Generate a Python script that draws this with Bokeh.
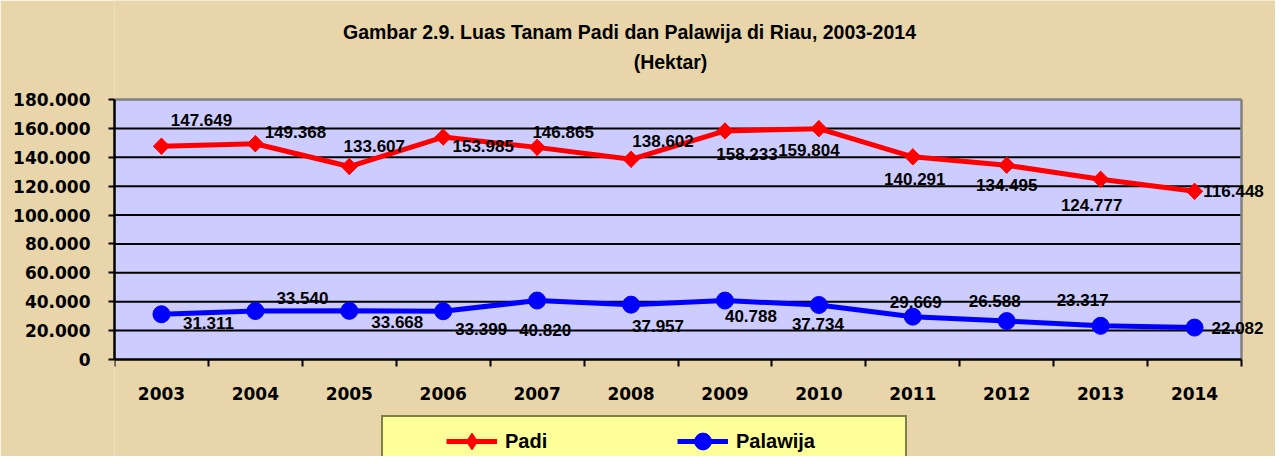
from math import pi
from bokeh.plotting import figure
from bokeh.models import (FixedTicker, Range1d, LabelSet, Label, Legend,
                          LegendItem, ColumnDataSource)
from bokeh.core.properties import value
from bokeh.embed import file_html
from bokeh.resources import INLINE

# ---------------- data ----------------
years = ["2003", "2004", "2005", "2006", "2007", "2008",
         "2009", "2010", "2011", "2012", "2013", "2014"]
padi = [147649, 149368, 133607, 153985, 146865, 138602,
        158233, 159804, 140291, 134495, 124777, 116448]
palawija = [31311, 33540, 33668, 33399, 40820, 37957,
            40788, 37734, 29669, 26588, 23317, 22082]
y_ticks = list(range(0, 180001, 20000))
title_line1 = "Gambar 2.9. Luas Tanam Padi dan Palawija di Riau, 2003-2014"
title_line2 = "(Hektar)"
series_names = ["Padi", "Palawija"]

# ---------------- layout / styles ----------------
W, H = 1275, 456
LEFT = 114          # px, left edge of plot area
PLOT_RIGHT = 1241   # px, right edge of plot area
PLOT_TOP = 99       # px
PLOT_BOTTOM = 359   # px

# label offsets in px (screen: +x right, +y down)
padi_dx = [40, 40, 25, 40, 26, 32, 22, -10, 2, 0, -9, 39]
padi_dy = [-26, -12, -21, 9, -15, -18, 23, 21, 22, 20, 26, 0]
pal_dx = [47, 47, 48, 38, 8, 27, 26, -1, 3, -12, -18, 43]
pal_dy = [9, -13, 11, 18, 29, 21, 15, 19, -15, -20, -26, 0]

BG = "#E8D5A9"
PLOT_BG = "#CCCCFF"
FONT = "Liberation Sans"
AXFONT = "DejaVu Sans"


def fmt(v):
    return f"{v:,}".replace(",", ".")


xs = list(range(1, len(years) + 1))
ymax = y_ticks[-1]
ppu_y = (PLOT_BOTTOM - PLOT_TOP) / ymax
y_start = -(H - PLOT_BOTTOM) / ppu_y
y_end = ymax + PLOT_TOP / ppu_y
ppu_x = (PLOT_RIGHT - LEFT) / len(years)
x_lo = xs[0] - 0.5
x_hi = xs[-1] + 0.5
x_end = x_lo + (W - LEFT) / ppu_x

p = figure(width=W, height=H, output_backend="svg", toolbar_location=None,
           x_range=Range1d(x_lo, x_end), y_range=Range1d(y_start, y_end),
           min_border_left=LEFT, min_border_right=0, min_border_top=0,
           min_border_bottom=0)
p.border_fill_color = BG
p.background_fill_color = BG
p.outline_line_color = None
p.xgrid.visible = False
p.ygrid.visible = False

# plot area background, grid and border
p.quad(left=[x_lo], right=[x_hi], bottom=[y_ticks[0]], top=[ymax],
       fill_color=PLOT_BG, line_color=None)
inner = y_ticks[1:-1]
p.segment(x0=[x_lo] * len(inner), x1=[x_hi] * len(inner), y0=inner, y1=inner,
          line_color="black", line_width=2)
p.segment(x0=[x_lo, x_hi], x1=[x_hi, x_hi], y0=[ymax, y_ticks[0]], y1=[ymax, ymax],
          line_color="#808080", line_width=2.5)

# axes
p.xaxis.fixed_location = 0
p.xaxis.bounds = (x_lo, x_hi)
p.xaxis.ticker = FixedTicker(ticks=xs, minor_ticks=[x - 0.5 for x in xs] + [x_hi])
p.xaxis.major_label_overrides = {x: y for x, y in zip(xs, years)}
p.xaxis.major_tick_out = 0
p.xaxis.major_tick_in = 0
p.xaxis.minor_tick_out = 7
p.xaxis.minor_tick_in = 0
p.xaxis.minor_tick_line_color = "black"
p.xaxis.minor_tick_line_width = 2
p.xaxis.axis_line_width = 2.5
p.xaxis.axis_line_color = "black"
p.xaxis.major_label_standoff = 20
p.xaxis.major_label_text_font = AXFONT
p.xaxis.major_label_text_font_style = "bold"
p.xaxis.major_label_text_font_size = "17px"
p.xaxis.major_label_text_color = "black"

p.yaxis.bounds = (y_ticks[0], ymax)
p.yaxis.ticker = FixedTicker(ticks=y_ticks)
p.yaxis.major_label_overrides = {t: fmt(t) for t in y_ticks}
p.yaxis.major_tick_out = 6
p.yaxis.major_tick_in = 0
p.yaxis.major_tick_line_width = 2
p.yaxis.major_tick_line_color = "black"
p.yaxis.minor_tick_line_color = None
p.yaxis.axis_line_width = 2.5
p.yaxis.axis_line_color = "black"
p.yaxis.major_label_standoff = 18
p.yaxis.major_label_text_font = AXFONT
p.yaxis.major_label_text_font_style = "bold"
p.yaxis.major_label_text_font_size = "17px"
p.yaxis.major_label_text_color = "black"

# series
padi_line = p.line(xs, padi, line_color="#FF0000", line_width=5)
# diamond marker (used by the legend), covered by the square-diamond markers
padi_dia = p.scatter(xs, padi, marker="diamond", size=16,
                     fill_color="#FF0000", line_color="#FF0000")
p.scatter(xs, padi, marker="square", angle=pi / 4, size=11.5,
          fill_color="#FF0000", line_color="#FF0000")
pal_line = p.line(xs, palawija, line_color="#0000FF", line_width=5)
pal_pts = p.scatter(xs, palawija, marker="circle", size=17,
                    fill_color="#0000FF", line_color="#0000FF")
box_dummy = p.scatter(x=[], y=[], marker="circle", size=1, fill_alpha=0, line_alpha=0)

# data labels
src_padi = ColumnDataSource(dict(x=xs, y=padi, t=[fmt(v) for v in padi],
                                 xo=padi_dx, yo=[-d for d in padi_dy]))
src_pal = ColumnDataSource(dict(x=xs, y=palawija, t=[fmt(v) for v in palawija],
                                xo=pal_dx, yo=[-d for d in pal_dy]))
for src in (src_padi, src_pal):
    p.add_layout(LabelSet(x="x", y="y", text="t", source=src, x_offset="xo", y_offset="yo",
                          text_align="center", text_baseline="middle",
                          text_font=value(FONT), text_font_style="bold",
                          text_font_size=value("17px"), text_color="black"))

# title (two lines); screen units are measured from the frame's bottom-left
p.add_layout(Label(x=629 - LEFT, y=H - 31, x_units="screen", y_units="screen",
                   text=title_line1, text_align="center", text_baseline="middle",
                   text_font=FONT, text_font_style="bold", text_font_size="19.5px",
                   text_color="black"))
p.add_layout(Label(x=670 - LEFT, y=H - 61, x_units="screen", y_units="screen",
                   text=title_line2, text_align="center", text_baseline="middle",
                   text_font=FONT, text_font_style="bold", text_font_size="19.5px",
                   text_color="black"))

# legend background box
box = Legend(items=[LegendItem(label=" ", renderers=[box_dummy])],
             location=(381 - LEFT, H - 469), orientation="horizontal", padding=0, margin=0,
             glyph_width=522, glyph_height=50, label_width=0, label_standoff=0,
             label_text_font_size="1px", label_text_alpha=0,
             background_fill_color="#FFFF99", background_fill_alpha=1,
             border_line_color="black", border_line_width=2)
p.add_layout(box)

leg = Legend(items=[LegendItem(label=series_names[0], renderers=[padi_line, padi_dia]),
                    LegendItem(label=series_names[1], renderers=[pal_line, pal_pts])],
             location=(444 - LEFT, H - 464), orientation="horizontal", padding=2, margin=0,
             glyph_width=51, glyph_height=42, label_width=100, label_standoff=8,
             spacing=72, label_text_font=FONT, label_text_font_style="bold",
             label_text_font_size="20px", label_text_color="black",
             background_fill_alpha=0, border_line_alpha=0)
p.add_layout(leg)

open("out.html", "w").write(file_html(p, INLINE))
